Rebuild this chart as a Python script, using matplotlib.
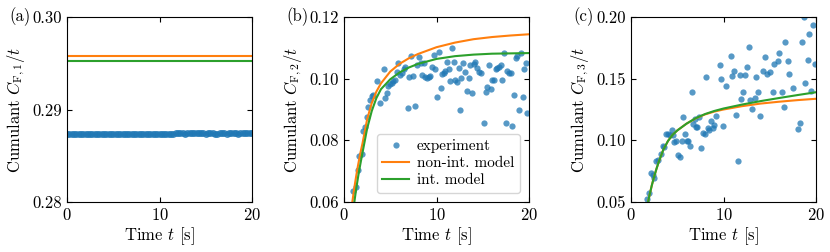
import matplotlib
matplotlib.use("Agg")
import matplotlib.pyplot as plt

# panel (a): first cumulant, dense experimental trace + two constant model levels
t_a = [0.0, 0.25, 0.5, 0.75, 1.0, 1.25, 1.5, 1.75, 2.0, 2.25, 2.5, 2.75, 3.0, 3.25, 3.5, 3.75,
       4.0, 4.25, 4.5, 4.75, 5.0, 5.25, 5.5, 5.75, 6.0, 6.25, 6.5, 6.75, 7.0, 7.25, 7.5, 7.75,
       8.0, 8.25, 8.5, 8.75, 9.0, 9.25, 9.5, 9.75, 10.0, 10.25, 10.5, 10.75, 11.0, 11.25, 11.5,
       11.75, 12.0, 12.25, 12.5, 12.75, 13.0, 13.25, 13.5, 13.75, 14.0, 14.25, 14.5, 14.75, 15.0,
       15.25, 15.5, 15.75, 16.0, 16.25, 16.5, 16.75, 17.0, 17.25, 17.5, 17.75, 18.0, 18.25, 18.5,
       18.75, 19.0, 19.25, 19.5, 19.75, 20.0]
c1_exp = [0.28736, 0.28738, 0.28735, 0.28737, 0.28739, 0.28736, 0.28734, 0.28736, 0.28738, 0.28737,
          0.28735, 0.28736, 0.28739, 0.28737, 0.28734, 0.28732, 0.28734, 0.28736, 0.28735, 0.28733,
          0.28735, 0.28737, 0.28736, 0.28738, 0.28736, 0.28735, 0.28737, 0.28738, 0.28736, 0.28735,
          0.28737, 0.28739, 0.28737, 0.28736, 0.28738, 0.28736, 0.28735, 0.28737, 0.28738, 0.28736,
          0.28737, 0.28736, 0.28738, 0.28737, 0.28735, 0.28737, 0.28740, 0.28743, 0.28741, 0.28745,
          0.28742, 0.28739, 0.28744, 0.28747, 0.28744, 0.28741, 0.28745, 0.28748, 0.28746, 0.28742,
          0.28739, 0.28741, 0.28745, 0.28743, 0.28740, 0.28738, 0.28742, 0.28746, 0.28743, 0.28740,
          0.28744, 0.28747, 0.28745, 0.28742, 0.28740, 0.28744, 0.28748, 0.28746, 0.28743, 0.28741,
          0.28744]
c1_nonint = 0.2958
c1_int = 0.2952

# panel (b): second cumulant
t_b = [1.01, 1.30, 1.48, 1.66, 1.92, 2.10, 2.28, 2.46, 2.64, 2.82, 3.00, 3.18, 3.62, 3.91, 4.30,
       4.45, 4.63, 4.81, 5.00, 5.17, 5.35, 5.53, 5.71, 5.89, 6.08, 6.26, 6.44, 6.62, 6.87, 7.05,
       7.23, 7.41, 7.63, 7.88, 8.10, 8.28, 8.43, 8.61, 8.79, 8.97, 9.15, 9.33, 9.55, 9.69, 9.87,
       10.05, 10.24, 10.49, 10.63, 10.78, 10.96, 11.14, 11.32, 11.50, 11.68, 11.86, 12.04, 12.22,
       12.40, 12.51, 12.66, 12.88, 13.13, 13.31, 13.49, 13.67, 13.85, 14.03, 14.21, 14.39, 14.58,
       14.76, 15.12, 15.30, 15.48, 15.66, 15.84, 16.02, 16.20, 16.38, 16.56, 16.74, 16.93, 17.11,
       17.29, 17.47, 17.65, 17.83, 18.01, 18.19, 18.37, 18.55, 18.73, 18.92, 19.17, 19.31, 19.46,
       19.64, 19.82]
c2_exp = [0.0636, 0.0648, 0.0704, 0.0749, 0.0756, 0.0831, 0.0844, 0.0877, 0.0907, 0.0931, 0.0945,
          0.0947, 0.0994, 0.0920, 0.1030, 0.0936, 0.0955, 0.0976, 0.0983, 0.0987, 0.0991, 0.0996,
          0.1023, 0.1052, 0.1012, 0.1019, 0.1030, 0.1039, 0.0904, 0.1004, 0.1073, 0.1009, 0.0911,
          0.1043, 0.1071, 0.1050, 0.1012, 0.1052, 0.1006, 0.1001, 0.1004, 0.1009, 0.1039, 0.1077,
          0.1030, 0.0939, 0.1088, 0.0969, 0.1015, 0.1019, 0.1026, 0.1055, 0.1030, 0.0992, 0.1098,
          0.1055, 0.0997, 0.0990, 0.1033, 0.0898, 0.1001, 0.1050, 0.1023, 0.0961, 0.1001, 0.1044,
          0.0952, 0.1047, 0.1055, 0.1033, 0.1023, 0.1019, 0.0857, 0.0958, 0.0972, 0.1044, 0.0965,
          0.0997, 0.0997, 0.1030, 0.1033, 0.1039, 0.1044, 0.0996, 0.1082, 0.0855, 0.1026, 0.1017,
          0.1019, 0.0846, 0.0947, 0.1066, 0.1073, 0.0898, 0.1082, 0.0942, 0.1030, 0.1052, 0.0888]
t_b_nonint = [0.9, 1.05, 1.2, 1.35, 1.5, 1.75, 2.0, 2.5, 3.0, 3.5, 4.0, 5.0, 6.0, 7.0, 8.0, 10.0,
              12.0, 14.0, 16.0, 18.0, 20.0]
c2_nonint = [0.0600, 0.0632, 0.0662, 0.0690, 0.0716, 0.0756, 0.0790, 0.0868, 0.0921, 0.0958,
             0.0985, 0.1023, 0.1048, 0.1066, 0.1080, 0.1102, 0.1117, 0.1128, 0.1135, 0.1140, 0.1144]
t_b_int = [1.12, 1.25, 1.4, 1.55, 1.75, 2.0, 2.5, 3.0, 3.5, 4.0, 5.0, 6.0, 7.0, 8.0, 10.0, 12.0,
           14.0, 16.0, 18.0, 20.0]
c2_int = [0.0600, 0.0628, 0.0658, 0.0686, 0.0720, 0.0760, 0.0838, 0.0895, 0.0937, 0.0966, 0.0998,
          0.1020, 0.1036, 0.1048, 0.1064, 0.1073, 0.1078, 0.1081, 0.1082, 0.1083]

# panel (c): third cumulant
t_c = [1.69, 1.94, 2.15, 2.33, 2.51, 2.69, 2.87, 3.23, 3.41, 3.59, 3.77, 4.02, 4.20, 4.42, 4.56,
       4.67, 4.85, 5.03, 5.28, 5.46, 5.60, 5.89, 6.00, 6.18, 6.36, 6.57, 6.71, 6.89, 7.00, 7.18,
       7.33, 7.61, 7.79, 7.97, 8.12, 8.29, 8.47, 8.65, 8.83, 8.98, 9.19, 9.59, 9.77, 9.95, 10.31,
       10.77, 10.95, 11.10, 11.31, 11.56, 11.74, 11.92, 12.10, 12.35, 12.53, 12.75, 12.89, 13.11,
       13.36, 13.54, 13.72, 13.90, 14.26, 14.54, 14.72, 15.08, 15.33, 15.51, 15.87, 16.05, 16.30,
       16.52, 16.70, 16.95, 17.13, 17.49, 18.10, 18.28, 18.46, 18.67, 18.85, 19.10, 19.28, 19.50,
       19.71, 19.89]
c3_exp = [0.0522, 0.0576, 0.0738, 0.0719, 0.0692, 0.0836, 0.0841, 0.0887, 0.0955, 0.0944, 0.1050,
          0.1050, 0.1044, 0.1085, 0.1044, 0.0990, 0.0998, 0.0882, 0.0863, 0.0998, 0.1193, 0.1052,
          0.0998, 0.0998, 0.0958, 0.1388, 0.1134, 0.1171, 0.1106, 0.1106, 0.1193, 0.0941, 0.1058,
          0.1052, 0.1510, 0.1098, 0.1085, 0.1153, 0.1098, 0.1125, 0.1199, 0.1613, 0.1496, 0.1117,
          0.1437, 0.1686, 0.1518, 0.1559, 0.1207, 0.0833, 0.1532, 0.1334, 0.1394, 0.1532, 0.1594,
          0.1756, 0.1329, 0.1253, 0.1342, 0.1513, 0.1394, 0.1199, 0.1559, 0.1675, 0.1540, 0.1551,
          0.1394, 0.1621, 0.1645, 0.1708, 0.1394, 0.1274, 0.1794, 0.1640, 0.1540, 0.1421, 0.1090,
          0.1144, 0.1800, 0.2000, 0.1464, 0.1653, 0.1865, 0.1402, 0.1935, 0.1621]
t_c_model = [1.85, 2.0, 2.25, 2.5, 2.75, 3.0, 3.5, 4.0, 4.5, 5.0, 6.0, 7.0, 8.0, 9.0, 10.0, 12.0,
             14.0, 16.0, 18.0, 20.0]
c3_nonint = [0.0500, 0.0555, 0.0635, 0.0705, 0.0768, 0.0825, 0.0925, 0.0995, 0.1045, 0.1080,
             0.1135, 0.1178, 0.1210, 0.1233, 0.1250, 0.1277, 0.1298, 0.1313, 0.1326, 0.1337]
c3_int = [0.0500, 0.0555, 0.0635, 0.0705, 0.0768, 0.0825, 0.0925, 0.0995, 0.1045, 0.1080,
          0.1135, 0.1180, 0.1213, 0.1238, 0.1258, 0.1290, 0.1318, 0.1343, 0.1367, 0.1390]

plt.rcParams.update(
    {
        "font.family": "serif",
        "font.serif": ["cmr10"],
        "mathtext.fontset": "cm",
        "axes.formatter.use_mathtext": True,
        "font.size": 12,
        "xtick.labelsize": 12,
        "ytick.labelsize": 12,
        "legend.fontsize": 11,
        "xtick.direction": "in",
        "ytick.direction": "in",
        "xtick.top": True,
        "ytick.right": True,
        "axes.unicode_minus": False,
    }
)

EXP = "#1f77b4"
NONINT = "#ff7f0e"
INT = "#2ca02c"

fig = plt.figure(figsize=(8.3, 2.52), dpi=100)
lefts = [67 / 830, 344 / 830, 631 / 830]
axes = [fig.add_axes([l, 50 / 252, 185 / 830, 185 / 252]) for l in lefts]

# (a)
ax = axes[0]
ax.plot(t_a, c1_exp, "o", ms=5, color=EXP, alpha=0.8, mec="none")
ax.axhline(c1_nonint, color=NONINT, lw=1.5)
ax.axhline(c1_int, color=INT, lw=1.5)
ax.set_ylim(0.28, 0.30)
ax.set_yticks([0.28, 0.29, 0.30])
ax.set_yticklabels(["0.28", "0.29", "0.30"])
ax.set_ylabel(r"Cumulant $C_{\mathrm{F},1}/t$")

# (b)
ax = axes[1]
ax.plot(t_b, c2_exp, "o", ms=4.5, color=EXP, alpha=0.75, mec="none", label="experiment")
ax.plot(t_b_nonint, c2_nonint, color=NONINT, lw=1.5, label="non-int. model")
ax.plot(t_b_int, c2_int, color=INT, lw=1.5, label="int. model")
ax.set_ylim(0.06, 0.12)
ax.set_yticks([0.06, 0.08, 0.10, 0.12])
ax.set_yticklabels(["0.06", "0.08", "0.10", "0.12"])
ax.set_ylabel(r"Cumulant $C_{\mathrm{F},2}/t$")
ax.legend(loc="lower right", borderaxespad=0.6, labelspacing=0.22, handlelength=1.8,
          handletextpad=0.5, borderpad=0.35)

# (c)
ax = axes[2]
ax.plot(t_c, c3_exp, "o", ms=4.5, color=EXP, alpha=0.75, mec="none")
ax.plot(t_c_model, c3_nonint, color=NONINT, lw=1.5)
ax.plot(t_c_model, c3_int, color=INT, lw=1.5)
ax.set_ylim(0.05, 0.20)
ax.set_yticks([0.05, 0.10, 0.15, 0.20])
ax.set_yticklabels(["0.05", "0.10", "0.15", "0.20"])
ax.set_ylabel(r"Cumulant $C_{\mathrm{F},3}/t$")

for ax, tag in zip(axes, ["(a)", "(b)", "(c)"]):
    ax.set_xlim(0, 20)
    ax.set_xticks([0, 10, 20])
    ax.set_xlabel(r"Time $t$ [s]", labelpad=2)
    ax.text(-0.31, 1.0, tag, transform=ax.transAxes, ha="left", va="center")

fig.savefig("out.png", dpi=100)
